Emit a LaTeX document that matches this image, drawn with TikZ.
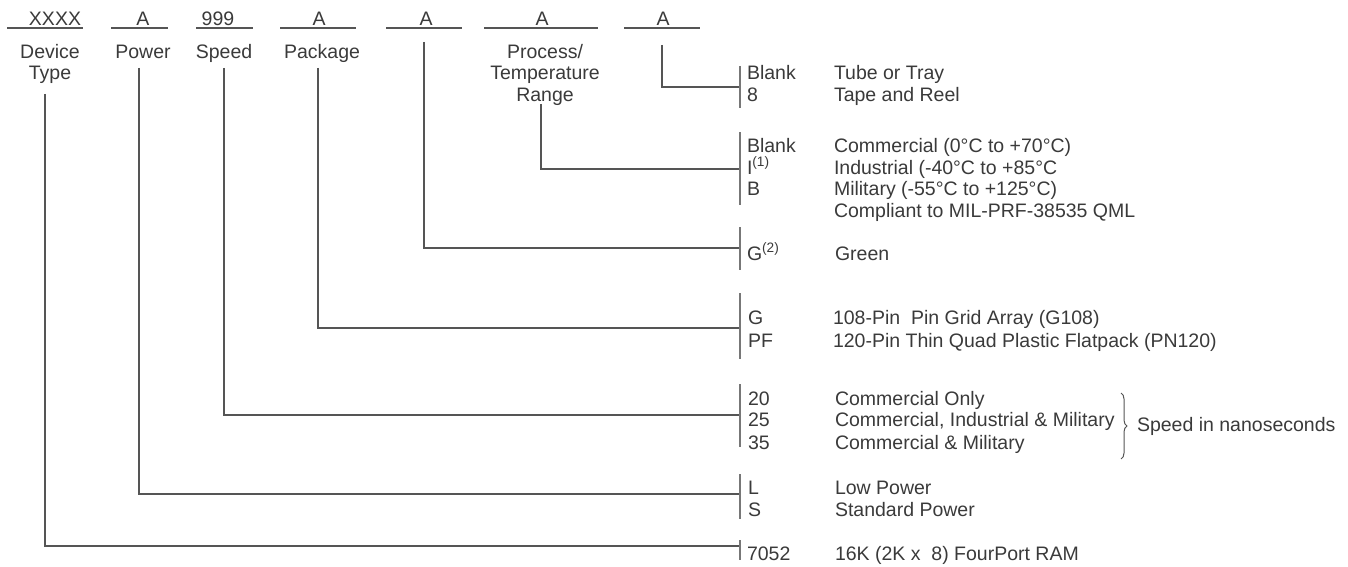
\documentclass[tikz,border=0pt]{standalone}
\usepackage{fontspec}
\setmainfont{Liberation Sans}
\usetikzlibrary{decorations.pathreplacing}
\definecolor{txt}{HTML}{3A3A3A}
\definecolor{ln}{HTML}{555555}
\begin{document}
\begin{tikzpicture}[x=1pt,y=-1pt,
  every node/.style={inner sep=0pt,outer sep=0pt,text=txt,font=\fontsize{19.5}{21.5}\selectfont},
  conn/.style={draw=ln,line width=1.1pt},
  bar/.style={draw=ln!80,line width=1.3pt},
  top/.style={anchor=base},
  code/.style={anchor=base west},
  desc/.style={anchor=base west}]
\useasboundingbox (0,0) rectangle (1348,567);

% top code letters and underlines
\node[top] (c1) at (55,25.5) {XXXX};
\node[top] (c2) at (143,25.5) {A};
\node[top] (c3) at (218,25.5) {999};
\node[top] (c4) at (319,25.5) {A};
\node[top] (c5) at (426,25.5) {A};
\node[top] (c6) at (542,25.5) {A};
\node[top] (c7) at (663,25.5) {A};
\draw[conn] (7,28) -- (83,28);
\draw[conn] (111,28) -- (168,28);
\draw[conn] (196,28) -- (253,28);
\draw[conn] (280,28) -- (356,28);
\draw[conn] (386,28) -- (462,28);
\draw[conn] (484,28) -- (598,28);
\draw[conn] (624,28) -- (700,28);

% field labels
\node[top] (l1a) at (50,59) {Device};
\node[top] (l1b) at (50,80) {Type};
\node[top] (l2) at (143,59) {Power};
\node[top] (l3) at (224,59) {Speed};
\node[top] (l4) at (322,59) {Package};
\node[top] (l6a) at (545,59) {Process/};
\node[top] (l6b) at (545,80) {Temperature};
\node[top] (l6c) at (545,102) {Range};

% connector start points and junctions
\coordinate (dev-t) at (45,94);   \coordinate (dev-j) at (740,546);
\coordinate (pow-t) at (139,68);  \coordinate (pow-j) at (740,494);
\coordinate (spd-t) at (224,68);  \coordinate (spd-j) at (740,415);
\coordinate (pkg-t) at (318,68);  \coordinate (pkg-j) at (740,328);
\coordinate (grn-t) at (424,42);  \coordinate (grn-j) at (740,248);
\coordinate (prc-t) at (541,104); \coordinate (prc-j) at (740,169);
\coordinate (tub-t) at (662,45);  \coordinate (tub-j) at (740,87);

\draw[conn] (dev-t) |- (dev-j);
\draw[conn] (pow-t) |- (pow-j);
\draw[conn] (spd-t) |- (spd-j);
\draw[conn] (pkg-t) |- (pkg-j);
\draw[conn] (grn-t) |- (grn-j);
\draw[conn] (prc-t) |- (prc-j);
\draw[conn] (tub-t) |- (tub-j);

% bars
\draw[bar] (740,66) -- (740,108);
\draw[bar] (740,132) -- (740,205);
\draw[bar] (740,227) -- (740,270);
\draw[bar] (740,293) -- (740,359);
\draw[bar] (740,384) -- (740,447);
\draw[bar] (740,474) -- (740,519);
\draw[bar] (740,540) -- (740,560);

% tube / tray
\node[code] (k1) at (747,80) {Blank};
\node[code] (k2) at (747,102) {8};
\node[desc] (d1) at (834,80) {Tube or Tray};
\node[desc] (d2) at (834,102) {Tape and Reel};

% process
\node[code] (k3) at (747,152) {Blank};
\node[code] (k4) at (747,174) {I\textsuperscript{(1)}};
\node[code] (k5) at (747,195) {B};
\node[desc] (d3) at (834,152) {Commercial (0°C to +70°C)};
\node[desc] (d4) at (834,174) {Industrial (-40°C to +85°C};
\node[desc] (d5) at (834,195) {Military (-55°C to +125°C)};
\node[desc] (d6) at (834,217) {Compliant to MIL-PRF-38535 QML};

% green
\node[code] (k6) at (747,260) {G\textsuperscript{(2)}};
\node[desc] (d7) at (835,260) {Green};

% package
\node[code] (k7) at (748,324) {G};
\node[code] (k8) at (748,347) {PF};
\node[desc] (d8) at (833,324) {108-Pin\ \ Pin Grid Array (G108)};
\node[desc] (d9) at (833,347) {120-Pin Thin Quad Plastic Flatpack (PN120)};

% speed
\node[code] (k9) at (748,405) {20};
\node[code] (k10) at (748,426) {25};
\node[code] (k11) at (748,449) {35};
\node[desc] (d10) at (835,405) {Commercial Only};
\node[desc] (d11) at (835,426) {Commercial, Industrial \& Military};
\node[desc] (d12) at (835,449) {Commercial \& Military};
\coordinate (br-t) at (1121,393);
\coordinate (br-b) at (1121,459);
\draw[draw=ln,line width=1pt,decorate,decoration={brace,amplitude=6pt}] (br-t) -- (br-b);
\node[desc] (d13) at (1137,431) {Speed in nanoseconds};

% power
\node[code] (k12) at (748,494) {L};
\node[code] (k13) at (748,516) {S};
\node[desc] (d14) at (835,494) {Low Power};
\node[desc] (d15) at (835,516) {Standard Power};

% device
\node[code] (k14) at (747,560) {7052};
\node[desc] (d16) at (835,560) {16K (2K x\ \ 8) FourPort RAM};
\end{tikzpicture}
\end{document}
